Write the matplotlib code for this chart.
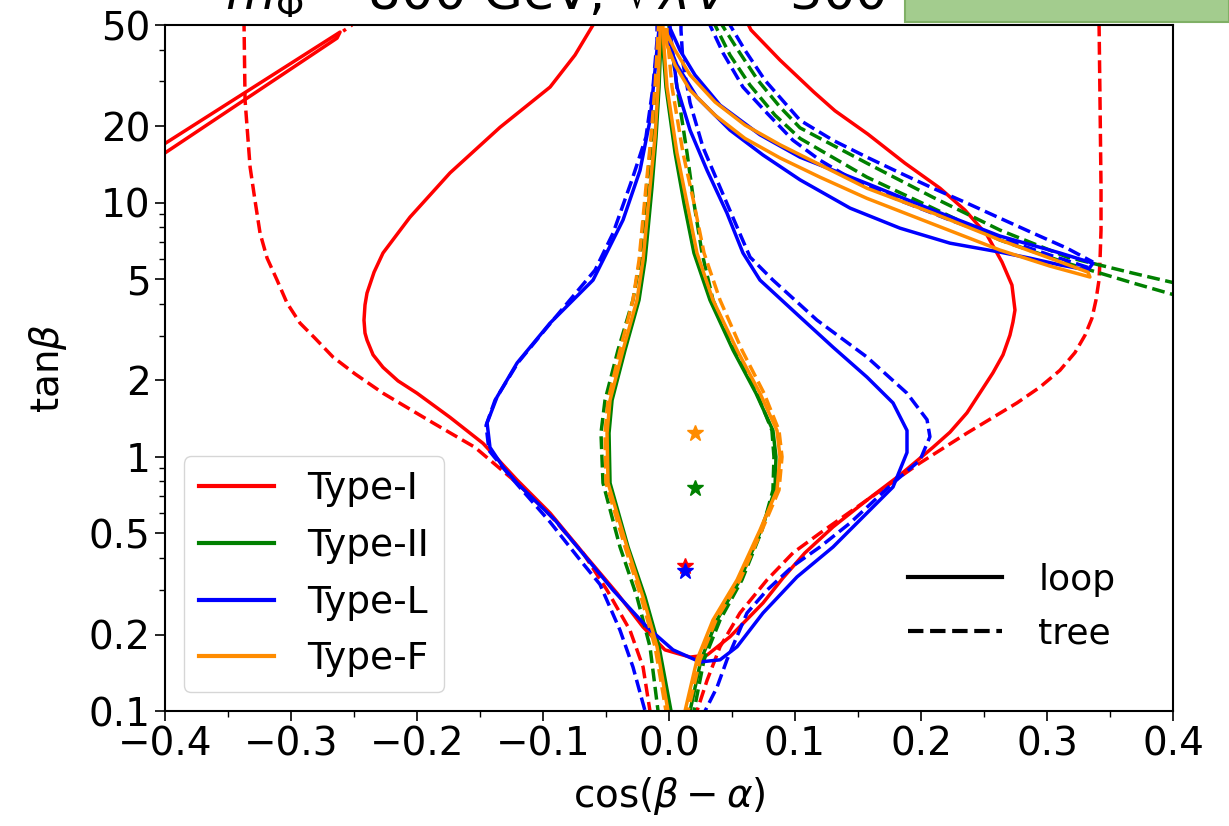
import matplotlib
matplotlib.use('Agg')
import matplotlib.pyplot as plt
from matplotlib.lines import Line2D
from matplotlib.patches import Rectangle
from matplotlib.ticker import MultipleLocator, FixedLocator, NullFormatter

# tan(beta) levels shared by the narrow central lobes (Type-II / Type-F)
tb_lobe_left = [53, 46.5, 28.5, 18.1, 11.5, 5.94, 4.14, 2.63, 1.67, 1.24, 0.789,
                0.442, 0.281, 0.179, 0.1, 0.092]
tb_lobe_right = [0.092, 0.1, 0.159, 0.228, 0.328, 0.515, 0.740, 1.00, 1.27, 1.78,
                 2.63, 4.14, 6.34, 9.96, 15.7, 28.5, 46.5, 53]

# Type-F
cF_loop_left = [-0.0063, -0.0071, -0.0087, -0.0111, -0.0151, -0.0206, -0.0254, -0.0365,
                -0.0468, -0.0492, -0.0484, -0.0333, -0.0206, -0.0095, -0.0008, 0.0]
cF_loop_right = [0.0127, 0.0127, 0.0222, 0.0349, 0.0540, 0.0722, 0.0857, 0.0881, 0.0857,
                 0.0722, 0.0540, 0.0349, 0.0222, 0.0143, 0.0063, -0.0016, -0.0048, -0.0048]
cF_tree_left = [-0.0079, -0.0087, -0.0111, -0.0143, -0.0183, -0.0238, -0.0286, -0.0389,
                -0.0484, -0.0508, -0.0500, -0.0349, -0.0222, -0.0111, -0.0024, -0.0016]
cF_tree_right = [0.0151, 0.0151, 0.0246, 0.0373, 0.0563, 0.0738, 0.0873, 0.0897, 0.0873,
                 0.0754, 0.0579, 0.0405, 0.0278, 0.0198, 0.0111, 0.0024, -0.0016, -0.0016]
cF_wing = [-0.0032, 0.0048, 0.0167, 0.0365, 0.0603, 0.0881, 0.1198, 0.1571, 0.2095, 0.2627,
           0.3024, 0.3325, 0.3341, 0.3024, 0.2627, 0.2095, 0.1571, 0.1198, 0.0881, 0.0603,
           0.0365, 0.0167, 0.0048, -0.0016, -0.0032]
tbF_wing = [47.8, 39.8, 31.8, 24.9, 20.2, 16.9, 14.1, 11.4, 9.10, 7.13, 6.05, 5.33, 5.10,
            5.63, 6.51, 8.24, 10.4, 12.6, 15.0, 17.9, 22.1, 27.7, 34.8, 41.7, 47.8]

# Type-II
cII_loop_left = [-0.0056, -0.0063, -0.0079, -0.0103, -0.0135, -0.0190, -0.0238, -0.0349,
                 -0.0452, -0.0476, -0.0468, -0.0325, -0.0190, -0.0079, 0.0016, 0.0024]
cII_loop_right = [0.0167, 0.0167, 0.0254, 0.0381, 0.0563, 0.0730, 0.0841, 0.0849, 0.0825,
                  0.0690, 0.0508, 0.0325, 0.0198, 0.0119, 0.0048, -0.0024, -0.0056, -0.0056]
cII_tree_left = [-0.0071, -0.0079, -0.0103, -0.0135, -0.0175, -0.0230, -0.0286, -0.0405,
                 -0.0508, -0.0540, -0.0524, -0.0389, -0.0254, -0.0151, -0.0087, -0.0079]
cII_tree_right = [0.0198, 0.0198, 0.0278, 0.0405, 0.0579, 0.0738, 0.0825, 0.0833, 0.0817,
                  0.0698, 0.0524, 0.0349, 0.0262, 0.0198, 0.0143, 0.0063, 0.0008, -0.0008]
cII_wing_a = [0.0365, 0.0365, 0.0484, 0.0643, 0.0841, 0.1040, 0.1571, 0.2095, 0.2627,
              0.3159, 0.3683, 0.4016]
tbII_wing_a = [53, 50, 38.1, 29.0, 22.1, 17.9, 12.6, 9.52, 7.13, 5.78, 4.83, 4.33]
cII_wing_b = [0.0421, 0.0421, 0.0548, 0.0706, 0.0881, 0.1040, 0.1571, 0.2095, 0.2627,
              0.3159, 0.3683, 0.4016]
tbII_wing_b = [53, 50, 39.8, 30.3, 23.8, 19.7, 14.3, 10.5, 7.80, 6.11, 5.28, 4.83]

# Type-L
cL_loop = [-0.0079, -0.0079, -0.0111, -0.0151, -0.0230, -0.0365, -0.0524, -0.0603, -0.0944,
           -0.1206, -0.1365, -0.1444, -0.1421, -0.1317, -0.1206, -0.0905, -0.0667, -0.0444,
           -0.0175, 0.0032, 0.0246, 0.0405, 0.0540, 0.0746, 0.1016, 0.1302, 0.1571, 0.1778,
           0.1889, 0.1889, 0.1778, 0.1571, 0.1302, 0.1040, 0.0722, 0.0587, 0.0460, 0.0302,
           0.0167, 0.0063, 0.0008, 0.0008]
tbL_loop = [53, 48.6, 33.2, 21.1, 13.4, 8.55, 5.94, 4.96, 3.36, 2.34, 1.72, 1.36, 1.09,
            0.912, 0.789, 0.564, 0.407, 0.299, 0.214, 0.174, 0.156, 0.159, 0.179, 0.243,
            0.337, 0.442, 0.601, 0.761, 1.04, 1.27, 1.63, 2.06, 2.70, 3.55, 4.96, 6.34,
            9.10, 13.4, 19.3, 28.5, 47.8, 53]
cL_loop_wing = [-0.0016, 0.0063, 0.0222, 0.0484, 0.0746, 0.1040, 0.1437, 0.1833, 0.2230,
                0.2627, 0.2865, 0.3103, 0.3325, 0.3365, 0.3103, 0.2627, 0.2095, 0.1571,
                0.1040, 0.0722, 0.0405, 0.0206, 0.0087, 0.0008]
tbL_loop_wing = [43.6, 34.8, 26.0, 19.3, 15.4, 12.3, 9.52, 7.94, 6.93, 6.39, 6.05, 5.69,
                 5.43, 5.78, 6.34, 7.39, 9.35, 11.9, 15.1, 18.5, 24.2, 31.8, 39.8, 48.6]
cL_tree_left = [-0.0095, -0.0095, -0.0127, -0.0183, -0.0294, -0.0444, -0.0587, -0.0921,
                -0.1198, -0.1381, -0.1452, -0.1429, -0.1302, -0.1206, -0.0944, -0.0706,
                -0.0548, -0.0389, -0.0286, -0.0190, -0.0183]
tbL_tree_left = [53, 43.6, 28.5, 18.1, 12.3, 7.59, 5.43, 3.45, 2.35, 1.67, 1.33, 1.06,
                 0.887, 0.78, 0.554, 0.393, 0.315, 0.208, 0.149, 0.1, 0.092]
cL_tree_right = [0.0294, 0.0286, 0.0381, 0.0460, 0.0619, 0.0778, 0.0984, 0.1198, 0.1437,
                 0.1778, 0.1992, 0.2071, 0.2048, 0.1889, 0.1571, 0.1175, 0.0825, 0.0643,
                 0.0540, 0.0405, 0.0270, 0.0167, 0.0111, 0.0095, 0.0095]
tbL_tree_right = [0.092, 0.1, 0.124, 0.159, 0.243, 0.299, 0.372, 0.442, 0.549, 0.789,
                  0.97, 1.20, 1.40, 1.78, 2.47, 3.45, 4.96, 6.11, 8.02, 11.5, 16.5, 24.7,
                  35.4, 47.8, 53]
cL_tree_wing_out = [0.0484, 0.0484, 0.0603, 0.0762, 0.1040, 0.1302, 0.1571, 0.1833, 0.2095,
                    0.2365, 0.2627, 0.2889, 0.3159, 0.3365]
tbL_tree_wing_out = [53, 50, 39.8, 30.3, 21.1, 17.6, 15.1, 13.1, 11.4, 9.96, 8.69, 7.59,
                     6.62, 5.84]
cL_tree_wing_in = [0.0325, 0.0325, 0.0429, 0.0587, 0.0778, 0.0984, 0.1198, 0.1437, 0.1833,
                   0.2230, 0.2627, 0.3024, 0.3341]
tbL_tree_wing_in = [53, 50, 38.8, 28.5, 22.5, 17.6, 14.7, 12.5, 10.2, 8.55, 7.26, 6.22, 5.53]

# Type-I
cI_loop = [-0.0571, -0.0603, -0.0746, -0.0944, -0.1341, -0.1738, -0.2056, -0.2270, -0.2341,
           -0.2397, -0.2413, -0.2421, -0.2413, -0.2397, -0.2349, -0.2270, -0.2151, -0.2000,
           -0.1738, -0.1476, -0.1206, -0.0944, -0.0683, -0.0413, -0.0206, -0.0032, 0.0167,
           0.0302, 0.0484, 0.0746, 0.0905, 0.1079, 0.1302, 0.1571, 0.1833, 0.2095, 0.2230,
           0.2365, 0.2571, 0.2651, 0.2706, 0.2730, 0.2746, 0.2722, 0.2643, 0.2524, 0.2349,
           0.2151, 0.1873, 0.1579, 0.1317, 0.1151, 0.0881, 0.0651, 0.0611]
tbI_loop = [53, 50.0, 38.1, 28.5, 19.8, 13.1, 8.77, 6.34, 5.33, 4.41, 3.96, 3.45, 3.07,
            2.88, 2.52, 2.25, 1.99, 1.78, 1.43, 1.13, 0.811, 0.601, 0.419, 0.291, 0.214,
            0.174, 0.163, 0.166, 0.196, 0.266, 0.334, 0.419, 0.530, 0.676, 0.848, 1.09,
            1.25, 1.49, 2.14, 2.52, 3.01, 3.39, 3.78, 4.74, 5.84, 7.46, 9.35, 11.4, 14.3,
            18.6, 23.0, 27.2, 36.4, 47.8, 52.3]
cI_loop_band = [-0.40, -0.2611, -0.2635, -0.40]
tbI_loop_band = [17.1, 46.9, 44.4, 15.7]
cI_tree_left = [-0.3373, -0.3373, -0.3365, -0.3325, -0.3286, -0.3246, -0.3190, -0.3111,
                -0.3032, -0.2929, -0.2810, -0.2667, -0.2492, -0.2270, -0.1873, -0.1540,
                -0.1206, -0.0944, -0.0683, -0.0492, -0.0310, -0.0206, -0.0151, -0.0143]
tbI_tree_left = [53, 50, 25.3, 13.8, 10.2, 7.59, 6.05, 4.96, 4.03, 3.36, 2.93, 2.47, 2.12,
                 1.78, 1.36, 1.09, 0.789, 0.590, 0.419, 0.299, 0.208, 0.149, 0.1, 0.092]
cI_tree_right = [0.0222, 0.0222, 0.0302, 0.0405, 0.0563, 0.0778, 0.0984, 0.1198, 0.1571,
                 0.1992, 0.2365, 0.2762, 0.2944, 0.3103, 0.3222, 0.3302, 0.3357, 0.3389,
                 0.3413, 0.3421, 0.3429, 0.3429, 0.3421, 0.3413]
tbI_tree_right = [0.092, 0.1, 0.132, 0.179, 0.243, 0.328, 0.419, 0.501, 0.676, 0.946,
                  1.24, 1.63, 1.88, 2.19, 2.57, 3.01, 3.51, 4.14, 4.96, 5.94, 7.80, 11.5,
                  25.3, 53]
cI_tree_stub = [-0.2587, -0.2516]
tbI_tree_stub = [47.3, 50.0]

# best-fit points (stars)
star_names = ['Type-I', 'Type-II', 'Type-L', 'Type-F']
star_c = [0.0127, 0.0206, 0.0127, 0.0206]
star_tb = [0.372, 0.754, 0.356, 1.24]

colors = ['red', 'green', 'blue', 'darkorange']
lw = 2.5

fig = plt.figure(figsize=(12.29, 8.26), dpi=100)
ax = fig.add_axes([0.1343, 0.1392, 0.8201, 0.8305])

# Type-I
ax.plot(cI_loop, tbI_loop, color='red', lw=lw)
ax.plot(cI_loop_band, tbI_loop_band, color='red', lw=lw)
ax.plot(cI_tree_left, tbI_tree_left, color='red', lw=lw, ls='--')
ax.plot(cI_tree_right, tbI_tree_right, color='red', lw=lw, ls='--')
ax.plot(cI_tree_stub, tbI_tree_stub, color='red', lw=lw, ls=':')

# Type-II
ax.plot(cII_tree_left, tb_lobe_left, color='green', lw=lw, ls='--')
ax.plot(cII_tree_right, tb_lobe_right, color='green', lw=lw, ls='--')
ax.plot(cII_wing_a, tbII_wing_a, color='green', lw=lw, ls='--')
ax.plot(cII_wing_b, tbII_wing_b, color='green', lw=lw, ls='--')
ax.plot(cII_loop_left, tb_lobe_left, color='green', lw=lw)
ax.plot(cII_loop_right, tb_lobe_right, color='green', lw=lw)

# Type-L
ax.plot(cL_tree_left, tbL_tree_left, color='blue', lw=lw, ls='--')
ax.plot(cL_tree_right, tbL_tree_right, color='blue', lw=lw, ls='--')
ax.plot(cL_tree_wing_out, tbL_tree_wing_out, color='blue', lw=lw, ls='--')
ax.plot(cL_tree_wing_in, tbL_tree_wing_in, color='blue', lw=lw, ls='--')
ax.plot(cL_loop, tbL_loop, color='blue', lw=lw)
ax.plot(cL_loop_wing, tbL_loop_wing, color='blue', lw=lw)

# Type-F
ax.plot(cF_tree_left, tb_lobe_left, color='darkorange', lw=lw, ls='--')
ax.plot(cF_tree_right, tb_lobe_right, color='darkorange', lw=lw, ls='--')
ax.plot(cF_loop_left, tb_lobe_left, color='darkorange', lw=lw)
ax.plot(cF_loop_right, tb_lobe_right, color='darkorange', lw=lw)
ax.plot(cF_wing, tbF_wing, color='darkorange', lw=lw)

for i in range(4):
    ax.plot(star_c[i], star_tb[i], marker='*', ms=12, color=colors[i], ls='none')

ax.set_yscale('log')
ax.set_xlim(-0.4, 0.4)
ax.set_ylim(0.1, 50)
yt = [0.1, 0.2, 0.5, 1, 2, 5, 10, 20, 50]
ax.yaxis.set_major_locator(FixedLocator(yt))
ax.set_yticklabels(['0.1', '0.2', '0.5', '1', '2', '5', '10', '20', '50'])
ax.yaxis.set_minor_formatter(NullFormatter())
ax.xaxis.set_major_locator(MultipleLocator(0.1))
ax.xaxis.set_minor_locator(MultipleLocator(0.05))
ax.tick_params(which='major', labelsize=28, length=7, width=1.2)
ax.tick_params(which='minor', length=4, width=1.0)
for s in ax.spines.values():
    s.set_linewidth(1.5)

ax.set_xlabel(r'$\cos(\beta-\alpha)$', fontsize=28, labelpad=8)
ax.set_ylabel(r'tan$\beta$', fontsize=28, labelpad=14)

h1 = [Line2D([], [], color=c, lw=3) for c in colors]
leg1 = ax.legend(h1, star_names, loc='lower left', fontsize=27, labelspacing=0.55,
                 handlelength=2.0, handletextpad=0.9)
ax.add_artist(leg1)
h2 = [Line2D([], [], color='black', lw=3), Line2D([], [], color='black', lw=3, ls='--')]
ax.legend(h2, ['loop', 'tree'], loc='center right', bbox_to_anchor=(0.975, 0.152),
          frameon=False, fontsize=26, labelspacing=0.55, handlelength=2.6, handletextpad=1.0)

fig.text(225 / 1229, 1 - 10 / 826, r'$m_\Phi = 800$ GeV, $\sqrt{\lambda}v = 300$ GeV',
         ha='left', va='baseline', fontsize=37)
fig.patches.append(Rectangle((905 / 1229, 1 - 22 / 826), 1 - 905 / 1229, 0.05,
                             transform=fig.transFigure, facecolor='#a3cc8e',
                             edgecolor='#80b066', lw=1.5, zorder=5))

fig.savefig('out.png', dpi=100)
